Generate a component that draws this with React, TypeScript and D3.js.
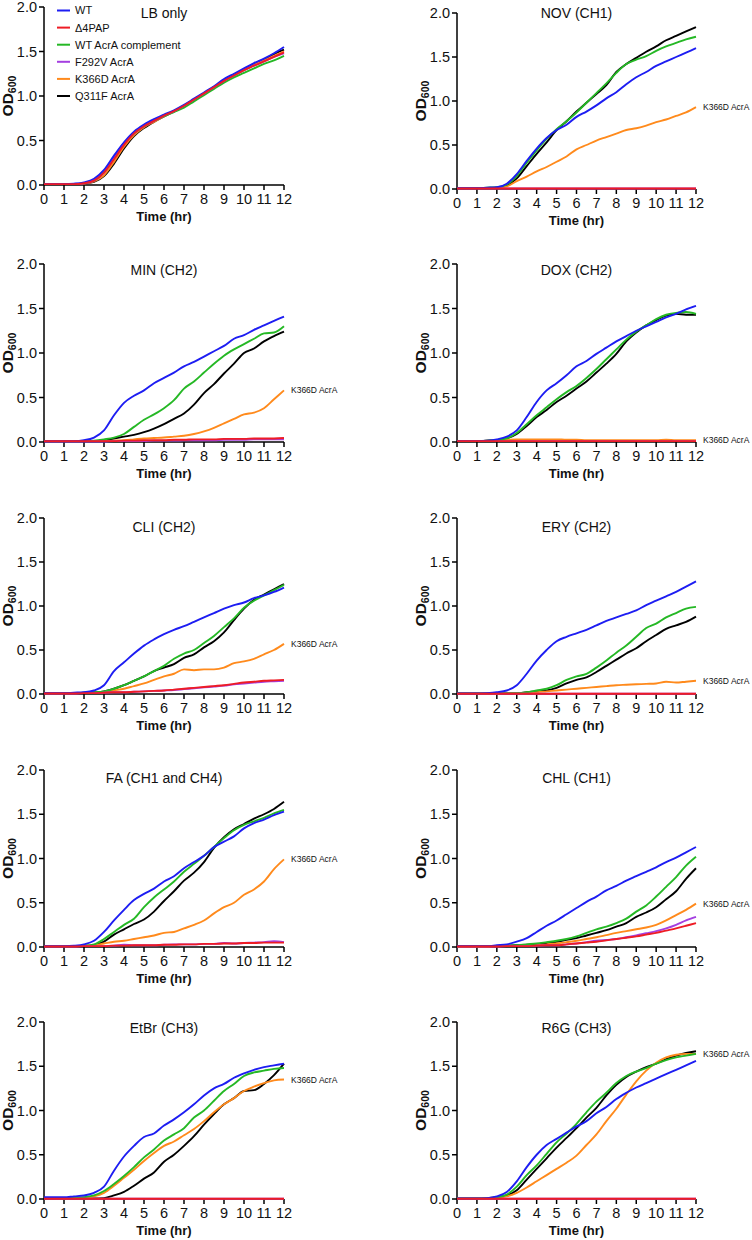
import React from "react";
import * as d3 from "d3";

// ---------- data ----------
const TIMES = [0, 0.5, 1, 1.5, 2, 2.5, 3, 3.5, 4, 4.5, 5, 5.5, 6, 6.5, 7, 7.5, 8, 8.5, 9, 9.5, 10, 10.5, 11, 11.5, 12];
const X_TICKS = [0, 1, 2, 3, 4, 5, 6, 7, 8, 9, 10, 11, 12];
const Y_TICKS = [0, 0.5, 1.0, 1.5, 2.0];
const SERIES_NAMES = ["WT", "Δ4PAP", "WT AcrA complement", "F292V AcrA", "K366D AcrA", "Q311F AcrA"];
const SERIES_COLORS = ["#1d1df2", "#ee1c25", "#25b825", "#a43fe0", "#ff8a1c", "#000000"];
const PANEL_TITLES = ["LB only", "NOV (CH1)", "MIN (CH2)", "DOX (CH2)", "CLI (CH2)", "ERY (CH2)", "FA (CH1 and CH4)", "CHL (CH1)", "EtBr (CH3)", "R6G (CH3)"];

// each panel: [WT, Δ4PAP, WT AcrA complement, F292V, K366D, Q311F]
const LB_ONLY = [
  [0.01, 0.01, 0.01, 0.015, 0.03, 0.07, 0.17, 0.33, 0.48, 0.60, 0.68, 0.74, 0.79, 0.84, 0.90, 0.97, 1.04, 1.11, 1.19, 1.25, 1.31, 1.37, 1.42, 1.48, 1.55],
  [0.01, 0.01, 0.01, 0.01, 0.02, 0.05, 0.14, 0.29, 0.45, 0.58, 0.66, 0.72, 0.78, 0.83, 0.89, 0.96, 1.03, 1.10, 1.17, 1.23, 1.29, 1.34, 1.39, 1.44, 1.49],
  [0.01, 0.01, 0.01, 0.01, 0.02, 0.05, 0.15, 0.31, 0.47, 0.58, 0.66, 0.72, 0.77, 0.82, 0.87, 0.94, 1.01, 1.08, 1.15, 1.21, 1.26, 1.31, 1.36, 1.40, 1.45],
  [0.01, 0.01, 0.01, 0.01, 0.02, 0.05, 0.14, 0.30, 0.46, 0.58, 0.66, 0.72, 0.78, 0.83, 0.89, 0.96, 1.03, 1.10, 1.17, 1.23, 1.29, 1.34, 1.39, 1.44, 1.48],
  [0.01, 0.01, 0.01, 0.01, 0.015, 0.04, 0.11, 0.26, 0.43, 0.56, 0.65, 0.71, 0.77, 0.83, 0.89, 0.96, 1.03, 1.10, 1.17, 1.23, 1.29, 1.35, 1.40, 1.45, 1.50],
  [0.01, 0.01, 0.01, 0.01, 0.015, 0.035, 0.10, 0.24, 0.41, 0.55, 0.64, 0.71, 0.77, 0.83, 0.89, 0.96, 1.03, 1.10, 1.18, 1.24, 1.30, 1.36, 1.41, 1.47, 1.52],
];
const NOV = [
  [0.01, 0.01, 0.01, 0.015, 0.02, 0.06, 0.17, 0.32, 0.46, 0.58, 0.67, 0.73, 0.82, 0.88, 0.95, 1.03, 1.10, 1.19, 1.27, 1.33, 1.40, 1.45, 1.50, 1.55, 1.60],
  [0.005, 0.005, 0.005, 0.005, 0.005, 0.005, 0.005, 0.005, 0.005, 0.005, 0.005, 0.005, 0.005, 0.005, 0.005, 0.005, 0.005, 0.005, 0.005, 0.005, 0.005, 0.005, 0.005, 0.005, 0.005],
  [0.01, 0.01, 0.01, 0.015, 0.02, 0.05, 0.15, 0.30, 0.44, 0.57, 0.68, 0.77, 0.87, 0.98, 1.09, 1.20, 1.32, 1.42, 1.47, 1.51, 1.57, 1.62, 1.66, 1.70, 1.73],
  [0.005, 0.005, 0.005, 0.005, 0.005, 0.005, 0.005, 0.005, 0.005, 0.005, 0.005, 0.005, 0.005, 0.005, 0.005, 0.005, 0.005, 0.005, 0.005, 0.005, 0.005, 0.005, 0.005, 0.005, 0.005],
  [0.01, 0.01, 0.01, 0.01, 0.015, 0.03, 0.09, 0.14, 0.20, 0.25, 0.31, 0.37, 0.45, 0.50, 0.55, 0.59, 0.63, 0.67, 0.69, 0.72, 0.76, 0.79, 0.83, 0.87, 0.93],
  [0.01, 0.01, 0.01, 0.01, 0.015, 0.04, 0.12, 0.26, 0.40, 0.53, 0.67, 0.77, 0.88, 0.98, 1.08, 1.18, 1.33, 1.42, 1.49, 1.56, 1.62, 1.69, 1.74, 1.79, 1.84],
];
const MIN = [
  [0.01, 0.01, 0.01, 0.01, 0.02, 0.05, 0.13, 0.30, 0.44, 0.52, 0.58, 0.66, 0.72, 0.78, 0.85, 0.90, 0.96, 1.02, 1.08, 1.16, 1.20, 1.26, 1.31, 1.36, 1.41],
  [0.01, 0.01, 0.01, 0.01, 0.01, 0.01, 0.01, 0.01, 0.015, 0.015, 0.02, 0.02, 0.02, 0.025, 0.025, 0.03, 0.03, 0.03, 0.035, 0.035, 0.035, 0.04, 0.04, 0.04, 0.045],
  [0.01, 0.01, 0.01, 0.01, 0.01, 0.015, 0.03, 0.05, 0.09, 0.17, 0.25, 0.31, 0.38, 0.47, 0.60, 0.68, 0.78, 0.88, 0.97, 1.04, 1.10, 1.16, 1.22, 1.23, 1.30],
  [0.005, 0.005, 0.005, 0.005, 0.005, 0.005, 0.005, 0.01, 0.01, 0.01, 0.01, 0.015, 0.015, 0.015, 0.02, 0.02, 0.02, 0.02, 0.025, 0.025, 0.025, 0.03, 0.03, 0.03, 0.03],
  [0.01, 0.01, 0.01, 0.01, 0.01, 0.01, 0.01, 0.015, 0.02, 0.03, 0.04, 0.045, 0.05, 0.06, 0.07, 0.09, 0.12, 0.16, 0.21, 0.26, 0.31, 0.33, 0.38, 0.48, 0.58],
  [0.01, 0.01, 0.01, 0.01, 0.01, 0.01, 0.02, 0.04, 0.06, 0.08, 0.11, 0.15, 0.20, 0.26, 0.32, 0.42, 0.55, 0.65, 0.77, 0.88, 1.00, 1.05, 1.13, 1.19, 1.24],
];
const DOX = [
  [0.01, 0.01, 0.01, 0.015, 0.03, 0.06, 0.13, 0.28, 0.45, 0.58, 0.66, 0.75, 0.85, 0.91, 0.99, 1.06, 1.13, 1.19, 1.25, 1.30, 1.35, 1.40, 1.44, 1.49, 1.53],
  [0.01, 0.01, 0.01, 0.01, 0.01, 0.01, 0.01, 0.01, 0.01, 0.01, 0.01, 0.01, 0.01, 0.01, 0.01, 0.01, 0.01, 0.01, 0.01, 0.01, 0.01, 0.01, 0.01, 0.01, 0.01],
  [0.01, 0.01, 0.01, 0.015, 0.02, 0.04, 0.10, 0.20, 0.30, 0.39, 0.48, 0.56, 0.63, 0.72, 0.82, 0.93, 1.04, 1.15, 1.24, 1.31, 1.38, 1.43, 1.45, 1.46, 1.44],
  [0.01, 0.01, 0.01, 0.01, 0.01, 0.01, 0.01, 0.01, 0.01, 0.01, 0.01, 0.01, 0.01, 0.01, 0.01, 0.01, 0.01, 0.01, 0.01, 0.01, 0.01, 0.01, 0.01, 0.01, 0.01],
  [0.01, 0.01, 0.01, 0.015, 0.02, 0.025, 0.03, 0.03, 0.03, 0.03, 0.03, 0.025, 0.025, 0.02, 0.02, 0.02, 0.02, 0.02, 0.02, 0.02, 0.02, 0.025, 0.02, 0.02, 0.02],
  [0.01, 0.01, 0.01, 0.015, 0.02, 0.04, 0.09, 0.18, 0.28, 0.36, 0.45, 0.52, 0.60, 0.68, 0.78, 0.88, 0.99, 1.13, 1.23, 1.31, 1.37, 1.42, 1.44, 1.43, 1.43],
];
const CLI = [
  [0.01, 0.01, 0.01, 0.015, 0.02, 0.04, 0.10, 0.26, 0.36, 0.46, 0.55, 0.62, 0.68, 0.73, 0.77, 0.82, 0.87, 0.92, 0.97, 1.01, 1.04, 1.09, 1.12, 1.16, 1.21],
  [0.005, 0.005, 0.005, 0.005, 0.01, 0.01, 0.015, 0.02, 0.02, 0.025, 0.03, 0.035, 0.04, 0.05, 0.06, 0.07, 0.08, 0.09, 0.10, 0.115, 0.13, 0.14, 0.15, 0.155, 0.16],
  [0.01, 0.01, 0.01, 0.01, 0.015, 0.02, 0.03, 0.06, 0.10, 0.15, 0.20, 0.26, 0.32, 0.40, 0.46, 0.50, 0.58, 0.66, 0.76, 0.86, 0.98, 1.06, 1.12, 1.18, 1.24],
  [0.005, 0.005, 0.005, 0.005, 0.01, 0.01, 0.015, 0.02, 0.02, 0.025, 0.03, 0.035, 0.04, 0.045, 0.055, 0.065, 0.075, 0.085, 0.095, 0.11, 0.12, 0.13, 0.14, 0.145, 0.15],
  [0.01, 0.01, 0.01, 0.01, 0.01, 0.015, 0.02, 0.04, 0.06, 0.09, 0.12, 0.16, 0.20, 0.23, 0.28, 0.27, 0.28, 0.28, 0.30, 0.35, 0.37, 0.40, 0.45, 0.50, 0.57],
  [0.01, 0.01, 0.01, 0.01, 0.015, 0.02, 0.03, 0.06, 0.10, 0.15, 0.20, 0.26, 0.30, 0.34, 0.41, 0.45, 0.53, 0.60, 0.70, 0.84, 0.97, 1.07, 1.13, 1.19, 1.25],
];
const ERY = [
  [0.005, 0.005, 0.005, 0.01, 0.02, 0.04, 0.10, 0.23, 0.38, 0.50, 0.60, 0.65, 0.69, 0.73, 0.78, 0.83, 0.87, 0.91, 0.95, 1.01, 1.06, 1.11, 1.16, 1.22, 1.28],
  [0.002, 0.002, 0.002, 0.002, 0.002, 0.002, 0.002, 0.002, 0.002, 0.002, 0.002, 0.002, 0.002, 0.002, 0.002, 0.002, 0.002, 0.002, 0.002, 0.002, 0.002, 0.002, 0.002, 0.002, 0.002],
  [0.005, 0.005, 0.005, 0.005, 0.005, 0.01, 0.01, 0.02, 0.04, 0.06, 0.10, 0.16, 0.20, 0.23, 0.30, 0.38, 0.47, 0.55, 0.65, 0.75, 0.80, 0.87, 0.92, 0.97, 0.99],
  [0.002, 0.002, 0.002, 0.002, 0.002, 0.002, 0.002, 0.002, 0.002, 0.002, 0.002, 0.002, 0.002, 0.002, 0.002, 0.002, 0.002, 0.002, 0.002, 0.002, 0.002, 0.002, 0.002, 0.002, 0.002],
  [0.005, 0.005, 0.005, 0.005, 0.005, 0.01, 0.01, 0.015, 0.02, 0.03, 0.04, 0.05, 0.06, 0.07, 0.08, 0.09, 0.10, 0.105, 0.11, 0.115, 0.12, 0.14, 0.13, 0.14, 0.15],
  [0.005, 0.005, 0.005, 0.005, 0.005, 0.01, 0.01, 0.02, 0.03, 0.04, 0.07, 0.12, 0.16, 0.19, 0.25, 0.32, 0.39, 0.46, 0.52, 0.60, 0.67, 0.74, 0.78, 0.82, 0.88],
];
const FA = [
  [0.01, 0.01, 0.01, 0.015, 0.03, 0.07, 0.17, 0.30, 0.42, 0.53, 0.60, 0.66, 0.74, 0.80, 0.89, 0.96, 1.03, 1.13, 1.19, 1.25, 1.34, 1.40, 1.44, 1.49, 1.53],
  [0.005, 0.005, 0.005, 0.005, 0.01, 0.01, 0.01, 0.015, 0.015, 0.02, 0.02, 0.02, 0.025, 0.025, 0.03, 0.03, 0.035, 0.035, 0.04, 0.04, 0.045, 0.045, 0.05, 0.05, 0.05],
  [0.01, 0.01, 0.01, 0.01, 0.015, 0.03, 0.09, 0.17, 0.25, 0.32, 0.45, 0.56, 0.65, 0.74, 0.85, 0.94, 1.03, 1.13, 1.23, 1.32, 1.38, 1.42, 1.46, 1.51, 1.55],
  [0.005, 0.005, 0.005, 0.005, 0.01, 0.01, 0.01, 0.015, 0.025, 0.02, 0.02, 0.02, 0.025, 0.03, 0.03, 0.03, 0.035, 0.035, 0.045, 0.04, 0.045, 0.05, 0.055, 0.065, 0.055],
  [0.01, 0.01, 0.01, 0.01, 0.015, 0.02, 0.04, 0.06, 0.07, 0.09, 0.11, 0.13, 0.16, 0.17, 0.21, 0.25, 0.30, 0.38, 0.45, 0.50, 0.59, 0.65, 0.74, 0.88, 0.99],
  [0.01, 0.01, 0.01, 0.01, 0.01, 0.02, 0.06, 0.14, 0.20, 0.26, 0.31, 0.40, 0.52, 0.63, 0.75, 0.84, 0.96, 1.12, 1.24, 1.33, 1.39, 1.45, 1.50, 1.56, 1.64],
];
const CHL = [
  [0.01, 0.01, 0.01, 0.01, 0.02, 0.03, 0.06, 0.10, 0.17, 0.24, 0.30, 0.37, 0.44, 0.51, 0.57, 0.64, 0.69, 0.75, 0.80, 0.85, 0.90, 0.96, 1.01, 1.07, 1.13],
  [0.005, 0.005, 0.005, 0.005, 0.005, 0.01, 0.01, 0.01, 0.015, 0.02, 0.02, 0.03, 0.04, 0.05, 0.06, 0.075, 0.09, 0.105, 0.12, 0.14, 0.16, 0.185, 0.21, 0.24, 0.27],
  [0.01, 0.01, 0.01, 0.01, 0.01, 0.015, 0.02, 0.03, 0.04, 0.055, 0.07, 0.09, 0.12, 0.16, 0.20, 0.23, 0.27, 0.32, 0.40, 0.47, 0.57, 0.68, 0.79, 0.92, 1.02],
  [0.005, 0.005, 0.005, 0.005, 0.005, 0.01, 0.01, 0.01, 0.015, 0.02, 0.02, 0.03, 0.04, 0.055, 0.07, 0.08, 0.09, 0.11, 0.13, 0.155, 0.18, 0.21, 0.25, 0.30, 0.34],
  [0.005, 0.005, 0.005, 0.005, 0.01, 0.01, 0.01, 0.015, 0.02, 0.03, 0.04, 0.055, 0.07, 0.09, 0.11, 0.135, 0.16, 0.18, 0.20, 0.22, 0.25, 0.30, 0.36, 0.42, 0.49],
  [0.01, 0.01, 0.01, 0.01, 0.01, 0.015, 0.02, 0.025, 0.03, 0.045, 0.06, 0.08, 0.10, 0.13, 0.16, 0.19, 0.23, 0.27, 0.34, 0.39, 0.45, 0.54, 0.63, 0.77, 0.89],
];
const ETBR = [
  [0.02, 0.02, 0.02, 0.03, 0.04, 0.07, 0.14, 0.32, 0.48, 0.60, 0.70, 0.74, 0.83, 0.90, 0.98, 1.07, 1.17, 1.25, 1.30, 1.37, 1.42, 1.46, 1.49, 1.51, 1.53],
  [0.002, 0.002, 0.002, 0.002, 0.002, 0.002, 0.002, 0.002, 0.002, 0.002, 0.002, 0.002, 0.002, 0.002, 0.002, 0.002, 0.002, 0.002, 0.002, 0.002, 0.002, 0.002, 0.002, 0.002, 0.002],
  [0.01, 0.01, 0.01, 0.015, 0.02, 0.04, 0.09, 0.17, 0.26, 0.36, 0.47, 0.56, 0.66, 0.73, 0.80, 0.92, 1.00, 1.11, 1.22, 1.30, 1.39, 1.43, 1.45, 1.47, 1.48],
  [0.002, 0.002, 0.002, 0.002, 0.002, 0.002, 0.002, 0.002, 0.002, 0.002, 0.002, 0.002, 0.002, 0.002, 0.002, 0.002, 0.002, 0.002, 0.002, 0.002, 0.002, 0.002, 0.002, 0.002, 0.002],
  [0.01, 0.01, 0.01, 0.01, 0.015, 0.03, 0.07, 0.15, 0.24, 0.33, 0.43, 0.52, 0.60, 0.65, 0.72, 0.79, 0.88, 0.98, 1.07, 1.14, 1.22, 1.27, 1.31, 1.34, 1.35],
  [0.005, 0.005, 0.005, 0.005, 0.005, 0.005, 0.01, 0.04, 0.08, 0.15, 0.23, 0.30, 0.42, 0.50, 0.60, 0.71, 0.84, 0.96, 1.07, 1.14, 1.22, 1.23, 1.30, 1.40, 1.53],
];
const R6G = [
  [0.005, 0.005, 0.005, 0.01, 0.03, 0.08, 0.20, 0.36, 0.50, 0.61, 0.68, 0.75, 0.82, 0.88, 0.97, 1.04, 1.13, 1.20, 1.26, 1.31, 1.36, 1.41, 1.46, 1.51, 1.56],
  [0.002, 0.002, 0.002, 0.002, 0.002, 0.002, 0.002, 0.002, 0.002, 0.002, 0.002, 0.002, 0.002, 0.002, 0.002, 0.002, 0.002, 0.002, 0.002, 0.002, 0.002, 0.002, 0.002, 0.002, 0.002],
  [0.005, 0.005, 0.005, 0.01, 0.02, 0.05, 0.14, 0.27, 0.38, 0.51, 0.64, 0.74, 0.85, 0.98, 1.10, 1.20, 1.31, 1.39, 1.44, 1.48, 1.53, 1.57, 1.60, 1.62, 1.64],
  [0.002, 0.002, 0.002, 0.002, 0.002, 0.002, 0.002, 0.002, 0.002, 0.002, 0.002, 0.002, 0.002, 0.002, 0.002, 0.002, 0.002, 0.002, 0.002, 0.002, 0.002, 0.002, 0.002, 0.002, 0.002],
  [0.005, 0.005, 0.005, 0.01, 0.015, 0.03, 0.07, 0.13, 0.20, 0.27, 0.34, 0.41, 0.49, 0.61, 0.73, 0.88, 1.02, 1.18, 1.33, 1.45, 1.54, 1.60, 1.63, 1.64, 1.64],
  [0.005, 0.005, 0.005, 0.01, 0.02, 0.04, 0.10, 0.22, 0.34, 0.46, 0.58, 0.69, 0.80, 0.92, 1.03, 1.17, 1.29, 1.38, 1.44, 1.49, 1.53, 1.58, 1.62, 1.65, 1.67],
];
const PANEL_DATA = [LB_ONLY, NOV, MIN, DOX, CLI, ERY, FA, CHL, ETBR, R6G];

// ---------- layout ----------
const W = 752;
const H = 1240;
const COL_X = [[44, 284], [457, 696]];
const ROW_Y = [[7, 185], [264, 442], [518, 694], [770, 947], [1022, 1199]];
const ROW1_RIGHT_Y = [13, 189];
const TITLE_OFFSET = [6, 0, 6, 6, 9, 9, 8, 8, 6, 6];
const DRAW_ORDER = [5, 4, 2, 3, 0, 1];
const FONT = "'Liberation Sans', Arial, Helvetica, sans-serif";

function Panel({ index }: { index: number }) {
  const col = index % 2;
  const row = Math.floor(index / 2);
  const [x0, x1] = COL_X[col];
  const [yTop, yBot] = index === 1 ? ROW1_RIGHT_Y : ROW_Y[row];
  const x = d3.scaleLinear().domain([0, 12]).range([x0, x1]);
  const y = d3.scaleLinear().domain([0, 2]).range([yBot, yTop]);
  const data = PANEL_DATA[index];
  const line = d3
    .line<number>()
    .x((_, i) => x(TIMES[i]))
    .y((v) => y(v))
    .curve(d3.curveMonotoneX);
  const fmt = d3.format(".1f");
  const titleY = yTop + TITLE_OFFSET[index];
  const orange = data[4];
  return (
    <g>
      {/* axes first, so near-zero curves sit on top of the x axis */}
      <line x1={x0} x2={x0} y1={yTop} y2={yBot} stroke="#000" strokeWidth={1.5} />
      {Y_TICKS.map((t) => (
        <g key={"y" + t}>
          <line x1={x0 - 5} x2={x0} y1={y(t)} y2={y(t)} stroke="#000" strokeWidth={1.5} />
          <text x={x0 - 7} y={y(t)} dy="0.36em" textAnchor="end" fontSize={14.5} fontFamily={FONT} fill="#111">
            {fmt(t)}
          </text>
        </g>
      ))}
      <line x1={x0} x2={x1} y1={yBot} y2={yBot} stroke="#000" strokeWidth={1.5} />
      {X_TICKS.map((t) => (
        <g key={"x" + t}>
          <line x1={x(t)} x2={x(t)} y1={yBot} y2={yBot + 5} stroke="#000" strokeWidth={1.5} />
          <text x={x(t)} y={yBot + 19} textAnchor="middle" fontSize={14.5} fontFamily={FONT} fill="#111">
            {t}
          </text>
        </g>
      ))}
      {DRAW_ORDER.map((s) => (
        <path
          key={s}
          d={line(data[s]) || ""}
          fill="none"
          stroke={SERIES_COLORS[s]}
          strokeWidth={1.9}
          strokeLinejoin="round"
        />
      ))}
      <text x={(x0 + x1) / 2} y={yBot + 36} textAnchor="middle" fontSize={13} fontWeight="bold" fontFamily={FONT} fill="#111">
        Time (hr)
      </text>
      <text
        transform={`translate(${x0 - 31},${(yTop + yBot) / 2}) rotate(-90)`}
        textAnchor="middle"
        fontSize={15.5}
        fontWeight="bold"
        fontFamily={FONT}
        fill="#111"
      >
        OD
        <tspan fontSize={10.5} dy={3}>
          600
        </tspan>
      </text>
      <text x={(x0 + x1) / 2} y={titleY} dy="0.36em" textAnchor="middle" fontSize={14} fontFamily={FONT} fill="#111">
        {PANEL_TITLES[index]}
      </text>
      {index > 0 && (
        <text x={x1 + 7} y={y(orange[orange.length - 1])} dy="0.35em" fontSize={8.5} fontFamily={FONT} fill="#111">
          {SERIES_NAMES[4]}
        </text>
      )}
      {index === 0 &&
        SERIES_NAMES.map((name, i) => {
          const ly = 10.5 + 17.1 * i;
          return (
            <g key={name}>
              <line x1={57} x2={70} y1={ly} y2={ly} stroke={SERIES_COLORS[i]} strokeWidth={2} />
              <text x={75} y={ly} dy="0.36em" fontSize={11} fontFamily={FONT} fill="#111">
                {name}
              </text>
            </g>
          );
        })}
    </g>
  );
}

export default function App() {
  return (
    <svg width={W} height={H} viewBox={`0 0 ${W} ${H}`} style={{ position: "absolute", left: 0, top: 0, background: "#fff" }}>
      <rect x={0} y={0} width={W} height={H} fill="#fff" />
      {PANEL_TITLES.map((_, i) => (
        <Panel key={i} index={i} />
      ))}
    </svg>
  );
}
